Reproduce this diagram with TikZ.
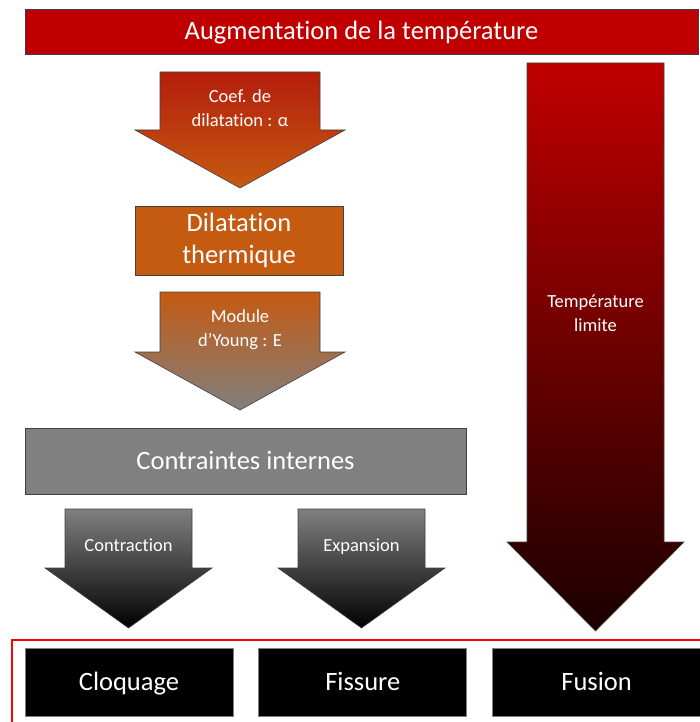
\documentclass[tikz,border=0pt]{standalone}
\usepackage{fontspec}
\setmainfont{Carlito}[Ligatures=NoCommon]
\usetikzlibrary{positioning, calc}

\definecolor{tempred}{HTML}{C00000}
\definecolor{coefred}{HTML}{B41E0C}
\definecolor{dilorange}{HTML}{C55A11}
\definecolor{stressgray}{HTML}{808080}
\definecolor{meltdark}{HTML}{1A0000}
\definecolor{edgegray}{HTML}{404040}

\tikzset{
    box/.style={draw=edgegray, line width=0.8pt, text=white, align=center, inner sep=0pt,
        font=\fontsize{26.5}{32}\selectfont},
    bigline/.style={text height=16.5pt, text depth=0pt},
    smallline/.style={text height=11.5pt, text depth=0pt},
    result/.style={box, bigline, fill=black, draw=gray, minimum width=208pt, minimum height=68pt},
    arrowlabel/.style={text=white, align=center, inner sep=0pt,
        font=\fontsize{18.5}{24}\selectfont}
}

\begin{document}
\begin{tikzpicture}[x=1pt, y=-1pt]
    \useasboundingbox (0,0) rectangle (700,722);

    % Block arrows: centre/top/head/tip/shaft half width/head half width/colours
    \foreach \cx/\ya/\yb/\yc/\sw/\hw/\ctop/\cmid/\cbot in {
        240/72/130/188/80/105/coefred/coefred!50!dilorange/dilorange,
        240/292/352/410/80/105/dilorange/dilorange!50!stressgray/stressgray,
        128.5/509/568/628/63.5/83.5/stressgray/stressgray!50!black/black,
        361.5/509/568/628/63.5/83.5/stressgray/stressgray!50!black/black,
        595.5/63/542/631/68.5/88.5/tempred/tempred!70!black/meltdark} {
        \shade[top color=\ctop, middle color=\cmid, bottom color=\cbot, draw=edgegray, line width=0.6pt]
            (\cx-\sw,\ya) -- (\cx+\sw,\ya) -- (\cx+\sw,\yb) -- (\cx+\hw,\yb)
            -- (\cx,\yc) -- (\cx-\hw,\yb) -- (\cx-\sw,\yb) -- cycle;
    }

    % Boxes
    \node[box, bigline, fill=tempred, minimum width=673pt, minimum height=45pt] (aug) at (361.5,31.5)
        {Augmentation de la température};
    \node[box, fill=dilorange, minimum width=208pt, minimum height=69pt] (dil) at (239,240.5)
        {Dilatation\\thermique};
    \node[box, bigline, fill=stressgray, minimum width=441pt, minimum height=66pt] (contr) at (245.5,461)
        {Contraintes internes};

    % Arrow labels
    \node[arrowlabel] (coef) at (240,108) {Coef. de\\dilatation : α};
    \node[arrowlabel] (young) at (240,330) {Module\\d’Young : E};
    \node[arrowlabel, smallline] (contrac) at (128.5,546) {Contraction};
    \node[arrowlabel, smallline] (expan) at (361.5,546) {Expansion};
    \node[arrowlabel] (tlim) at (595.5,313) {Température\\limite};

    % Results
    \draw[red, line width=2.5pt] (12,640) rectangle (712,732);
    \node[result] (cloq) at (129,682) {Cloquage};
    \node[result, right=25pt of cloq] (fiss) {Fissure};
    \node[result, right=25pt of fiss] (fus) {Fusion};
\end{tikzpicture}
\end{document}
